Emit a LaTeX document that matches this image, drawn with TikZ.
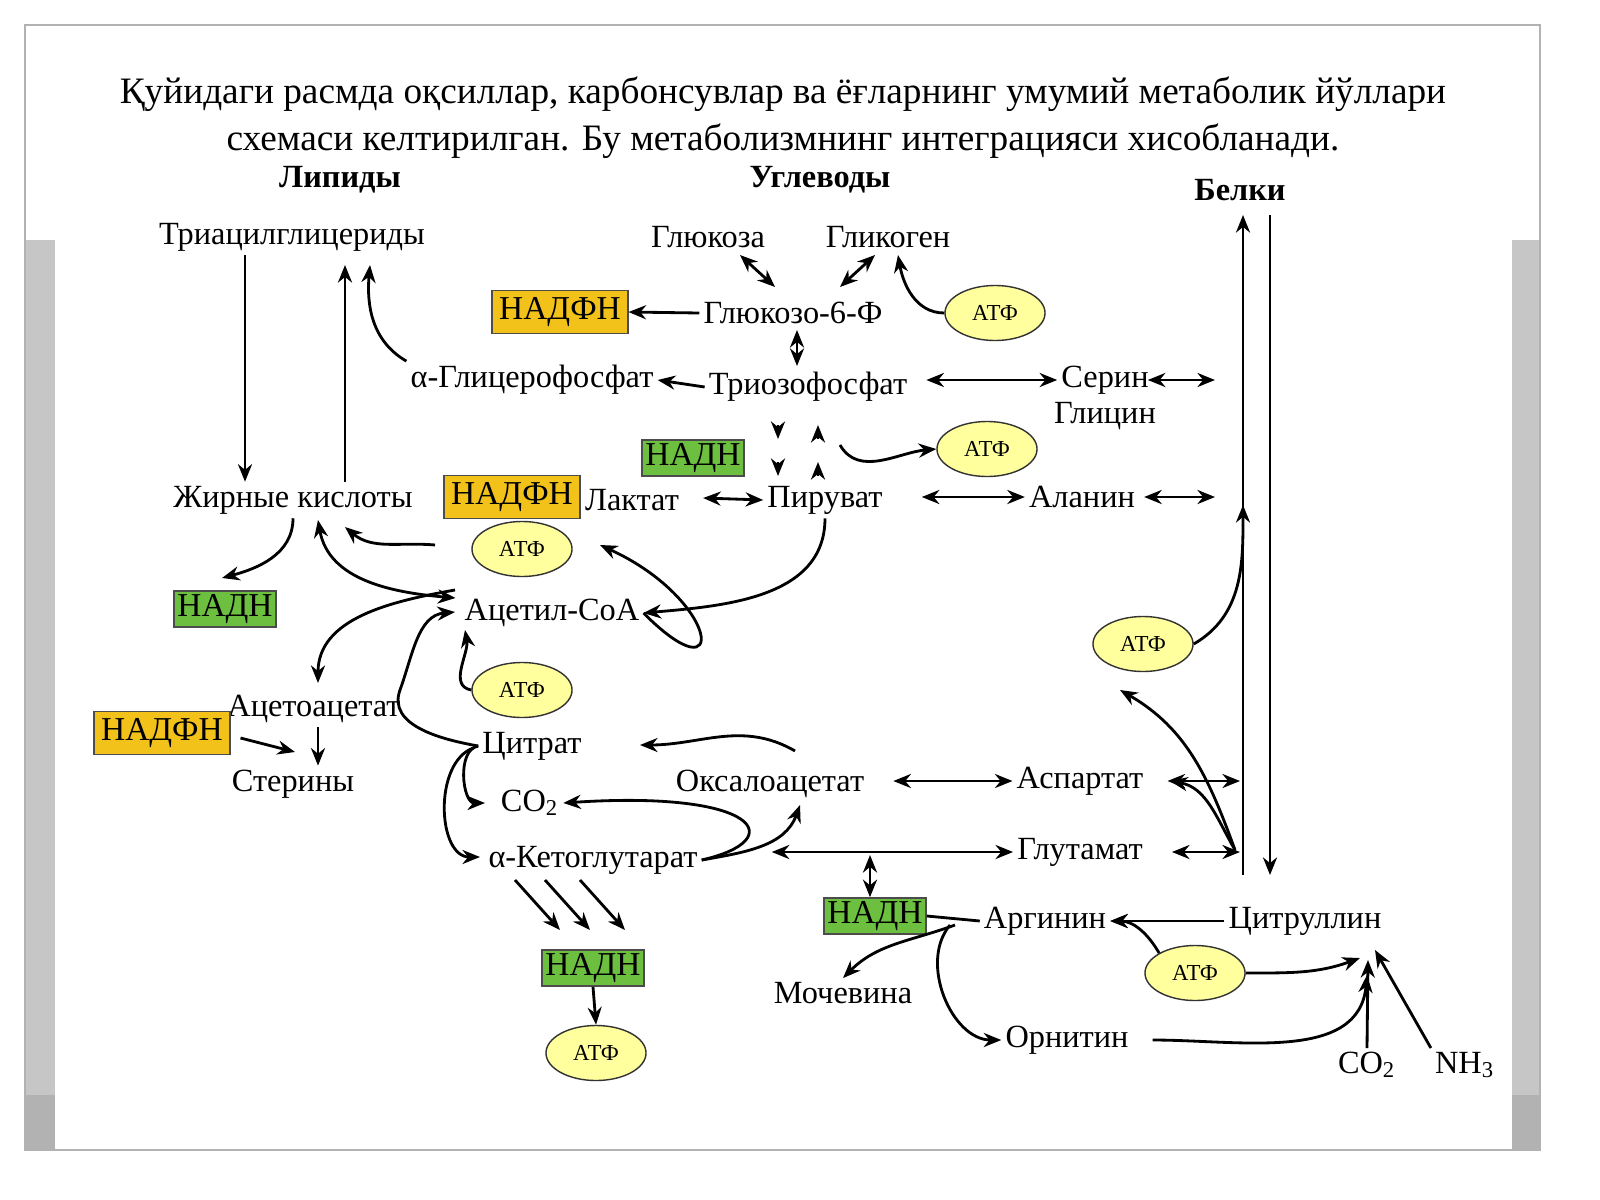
\documentclass[tikz,border=0pt]{standalone}
\usepackage{fontspec}
\setmainfont{Liberation Serif}
\usetikzlibrary{shapes.geometric, arrows.meta, positioning}
\definecolor{nadphyel}{HTML}{F2C21B}
\definecolor{nadhgreen}{HTML}{6CBF3F}
\definecolor{atpfill}{HTML}{FFFF9E}
\tikzstyle{sub} = [inner sep=1pt, font=\fontsize{9.2}{11}\selectfont]
\tikzstyle{head} = [inner sep=1pt, font=\fontsize{9.2}{11}\selectfont\bfseries]
\tikzstyle{yel} = [rectangle, draw=black!70, fill=nadphyel, minimum height=0.4cm, inner sep=2pt, font=\fontsize{9.5}{11}\selectfont]
\tikzstyle{grn} = [rectangle, draw=black!70, fill=nadhgreen, minimum height=0.3cm, inner sep=1pt, font=\fontsize{9.5}{10}\selectfont]
\tikzstyle{atp} = [ellipse, draw=black!80, fill=atpfill, minimum width=1cm, minimum height=0.55cm, inner sep=0pt, font=\fontsize{6.5}{8}\selectfont]
\tikzstyle{arr} = [->, >={Stealth[length=5pt,width=4pt]}, thick]
\tikzstyle{both} = [<->, >={Stealth[length=5pt,width=4pt]}, thick]

\begin{document}
\begin{tikzpicture}[x=0.01cm, y=-0.01cm]
    \useasboundingbox (0,0) rectangle (1600,1200);
    % frame
    \fill[white] (0,0) rectangle (1600,1200);
    \fill[gray!45] (25,240) rectangle (55,1150);
    \fill[gray!45] (1512,240) rectangle (1540,1150);
    \fill[gray!60] (25,1095) rectangle (55,1150);
    \fill[gray!60] (1512,1095) rectangle (1540,1150);
    \draw[gray!60] (25,25) rectangle (1540,1150);

    % title
    \node (title) [align=center, font=\fontsize{10.6}{13.4}\selectfont] at (783,118)
      {Қуйидаги расмда оқсиллар, карбонсувлар ва ёғларнинг умумий метаболик йўллари\\
       схемаси келтирилган. Бу метаболизмнинг интеграцияси хисобланади.};

    % headers
    \node (lip) [head] at (340,180) {Липиды};
    \node (ugl) [head] at (820,180) {Углеводы};
    \node (bel) [head] at (1240,190) {Белки};

    % substances
    \node (tag) [sub] at (292,237) {Триацилглицериды};
    \node (gluc) [sub] at (708,237) {Глюкоза};
    \node (glyc) [sub] at (888,237) {Гликоген};
    \node (nadph1) [yel] at (560,312) {НАДФН};
    \node (g6p) [sub] at (793,313) {Глюкозо-6-Ф};
    \node (atp1) [atp] at (995,313) {АТФ};
    \node (agp) [sub] at (532,380) {α-Глицерофосфат};
    \node (trio) [sub] at (808,387) {Триозофосфат};
    \node (serin) [sub] at (1105,380) {Серин};
    \node (glicin) [sub] at (1105,416) {Глицин};
    \node (nadh1) [grn] at (693,458) {НАДН};
    \node (atp2) [atp] at (987,449) {АТФ};
    \node (fa) [sub] at (293,500) {Жирные кислоты};
    \node (nadph2) [yel] at (512,497) {НАДФН};
    \node (lactat) [sub] at (632,500) {Лактат};
    \node (piruvat) [sub] at (825,500) {Пируват};
    \node (alanin) [sub] at (1082,497) {Аланин};
    \node (atp3) [atp] at (522,549) {АТФ};
    \node (nadh2) [grn] at (225,609) {НАДН};
    \node (acoa) [sub] at (552,613) {Ацетил-СоА};
    \node (atp4) [atp] at (1143,644) {АТФ};
    \node (atp5) [atp] at (522,690) {АТФ};
    \node (acetoac) [sub] at (314,709) {Ацетоацетат};
    \node (nadph3) [yel] at (162,733) {НАДФН};
    \node (citrat) [sub] at (532,746) {Цитрат};
    \node (sterin) [sub] at (293,784) {Стерины};
    \node (oxal) [sub] at (770,784) {Оксалоацетат};
    \node (aspart) [sub] at (1080,781) {Аспартат};
    \node (co2a) [sub] at (530,803) {CO\textsubscript{2}};
    \node (akg) [sub] at (593,860) {α-Кетоглутарат};
    \node (glut) [sub] at (1080,852) {Глутамат};
    \node (nadh3) [grn] at (875,916) {НАДН};
    \node (arg) [sub] at (1045,921) {Аргинин};
    \node (citrul) [sub] at (1305,921) {Цитруллин};
    \node (nadh4) [grn] at (593,968) {НАДН};
    \node (atp6) [atp] at (1195,973) {АТФ};
    \node (mochev) [sub] at (843,993) {Мочевина};
    \node (orn) [sub] at (1067,1040) {Орнитин};
    \node (atp7) [atp] at (596,1053) {АТФ};
    \node (co2b) [sub] at (1367,1065) {CO\textsubscript{2}};
    \node (nh3) [sub] at (1465,1065) {NH\textsubscript{3}};
    \coordinate (jp) at (1360,958);

    % lipids
    \draw [arr] (tag.south -| 245,0) -- (fa.north -| 245,0);
    \draw [arr] (fa.north -| 345,0) -- (345,265);
    \draw [arr] (agp.north west) to[out=150,in=-95] (370,265);
    \draw [arr] (fa.south) to[out=-90,in=15] (222,578);
    \draw [both] (acoa.west) ++(-5,-15) to[out=175,in=-80] (318,520);
    \draw [arr] (435,545) to[out=175,in=-40] (345,527);
    \draw [arr] (455,590) to[out=190,in=90] (318,683);
    \draw [arr] (acetoac.south -| 318,0) -- (sterin.north -| 318,0);
    \draw [arr] (nadph3.east) ++(10,5) -- (295,752);

    % carbohydrates
    \draw [arr] (g6p.west) -- (nadph1.east);
    \draw [both] (740,255) -- (775,287);
    \draw [both] (875,255) -- (840,287);
    \draw [arr] (atp1.west) to[out=180,in=-80] (898,255);
    \draw [both] (797,330) -- (797,366);
    \draw [arr] (trio.west) -- (agp.east);
    \draw [both] (trio.east) ++(15,-7) -- (serin.west);
    \draw [both] (serin.east) ++(-5,0) -- (1215,380);
    \foreach \y in {425,462} {
      \draw [arr] (778,\y) -- (778,\y+14);
      \draw [arr] (818,\y+14) -- (818,\y);
    }
    \draw [arr] (840,445) to[out=-60,in=185] (atp2.west);
    \draw [both] (lactat.east) ++(20,-2) -- (piruvat.west);
    \draw [both] (piruvat.east) ++(35,-3) -- (alanin.west);
    \draw [both] (alanin.east) ++(5,0) -- (1215,497);
    \draw [arr] (piruvat.south) to[out=-90,in=5] (acoa.east);
    \draw [arr] (acoa.east) .. controls (730,700) and (720,600) .. (600,545);

    % TCA cycle
    \draw [arr] (citrat.west) to[out=170,in=-110] (400,690) to[out=70,in=185] (455,612);
    \draw [arr] (atp5.west) to[out=170,in=-80] (465,630);
    \draw [arr] (oxal.north) ++(25,-15) to[out=150,in=0] (640,745);
    \draw [arr] (citrat.west) to[out=190,in=180] (485,803);
    \draw [arr] (citrat.west) ++(-5,2) to[out=200,in=180] (480,857);
    \draw [arr] (akg.east) .. controls (790,840) and (760,790) .. (co2a.east);
    \draw [arr] (akg.east) to[out=10,in=-110] (800,805);
    \draw [both] (oxal.east) ++(25,-3) -- (aspart.west);
    \draw [both] (aspart.east) ++(20,0) -- (1240,781);
    \draw [both] (akg.east) ++(70,-8) -- (glut.west);
    \draw [both] (glut.east) ++(25,0) -- (1240,852);
    \draw [both] (870,855) -- (nadh3.north -| 870,0);
    \foreach \x in {515,545,580}
      \draw [arr] (\x,880) -- (\x+45,930);
    \draw [arr] (nadh4.south) -- (atp7.north);

    % urea cycle
    \draw [thick] (nadh3.east) -- (arg.west);
    \draw [arr] (citrul.west) -- (arg.east);
    \draw [arr] (955,925) to[out=200,in=45] (mochev.north);
    \draw [arr] (950,925) to[out=230,in=180] (orn.west);
    \draw [arr] (atp6.north west) to[out=120,in=0] (arg.east);
    \draw [arr] (atp6.east) to[out=0,in=200] (jp);
    \draw [arr] (orn.east) ++(20,0) to[out=0,in=-95] (1367,975);
    \draw [arr] (co2b.north) -- (1368,960);
    \draw [arr] (nh3.north west) -- (1375,950);

    % proteins
    \draw [arr] (1243,875) -- (1243,215);
    \draw [arr] (1270,215) -- (1270,875);
    \draw [arr] (atp4.east) to[out=30,in=-90] (1243,505);
    \draw [arr] (1235,850) to[out=110,in=-30] (1120,690);
    \draw [arr] (1235,850) to[out=120,in=-10] (1170,781);
\end{tikzpicture}
\end{document}
